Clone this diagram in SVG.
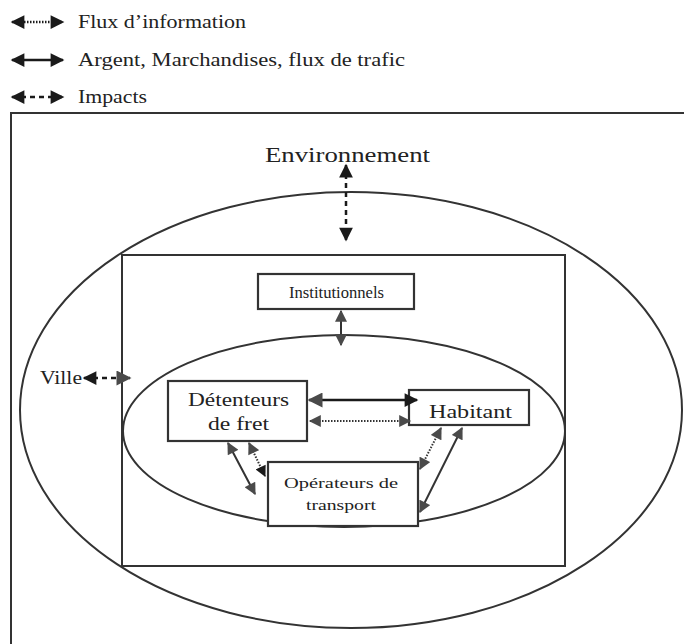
<svg xmlns="http://www.w3.org/2000/svg" width="684" height="644" viewBox="0 0 684 644">
<defs>
<marker id="ah" viewBox="0 0 10 10" refX="9" refY="5" markerWidth="6" markerHeight="5.5" orient="auto-start-reverse" markerUnits="strokeWidth"><path d="M0,0 L10,5 L0,10 z" fill="#1a1a1a"/></marker>
<marker id="ahg" viewBox="0 0 10 10" refX="9" refY="5" markerWidth="6.5" markerHeight="6" orient="auto-start-reverse" markerUnits="strokeWidth"><path d="M0,0 L10,5 L0,10 z" fill="#4a4a4a"/></marker>
<style>
.t{font-family:"Liberation Serif","DejaVu Serif",serif;fill:#222}
.box{fill:#fff;stroke:#333;stroke-width:2.2}
.frame{fill:none;stroke:#333;stroke-width:2}
.solid{stroke:#1a1a1a;stroke-width:2.5;fill:none}
.dot{stroke:#1a1a1a;stroke-width:2.5;stroke-dasharray:1.5 1.5;fill:none}
.dash{stroke:#1a1a1a;stroke-width:2.5;stroke-dasharray:5 4;fill:none}
.gs{stroke:#333;stroke-width:2;fill:none}
.gd{stroke:#333;stroke-width:2;stroke-dasharray:1.5 1.5;fill:none}
</style>
</defs>
<rect width="684" height="644" fill="#fff"/>
<g id="legend">
<line class="dot" x1="12" y1="22" x2="63" y2="22" marker-start="url(#ah)" marker-end="url(#ah)"/>
<text class="t" x="78" y="28" font-size="19" textLength="168" lengthAdjust="spacingAndGlyphs">Flux d’information</text>
<line class="solid" x1="12" y1="60" x2="63" y2="60" marker-start="url(#ah)" marker-end="url(#ah)"/>
<text class="t" x="78" y="66" font-size="19" textLength="327" lengthAdjust="spacingAndGlyphs">Argent, Marchandises, flux de trafic</text>
<line class="dash" x1="12" y1="97" x2="63" y2="97" marker-start="url(#ah)" marker-end="url(#ah)"/>
<text class="t" x="78" y="103" font-size="19" textLength="69" lengthAdjust="spacingAndGlyphs">Impacts</text>
</g>
<g id="frame"><path class="frame" d="M11,644 L11,113 L684,113"/></g>
<g id="environnement">
<ellipse class="frame" cx="351" cy="410" rx="331" ry="218"/>
<text class="t" x="265" y="162" font-size="22" textLength="165" lengthAdjust="spacingAndGlyphs">Environnement</text>
</g>
<g id="ville">
<rect class="frame" x="122" y="255" width="443" height="311"/>
<text class="t" x="40" y="384" font-size="18" textLength="42" lengthAdjust="spacingAndGlyphs">Ville</text>
</g>
<g id="acteurs"><ellipse class="frame" cx="344" cy="431" rx="221" ry="96"/></g>
<g id="institutionnels">
<rect class="box" x="258" y="274" width="156" height="35"/>
<text class="t" x="289" y="298" font-size="16" textLength="95" lengthAdjust="spacingAndGlyphs">Institutionnels</text>
</g>
<g id="detenteurs">
<rect class="box" x="168" y="381" width="139" height="60"/>
<text class="t" x="188" y="406" font-size="19" textLength="101" lengthAdjust="spacingAndGlyphs">Détenteurs</text>
<text class="t" x="208" y="430" font-size="19" textLength="61" lengthAdjust="spacingAndGlyphs">de fret</text>
</g>
<g id="habitant">
<rect class="box" x="409" y="390" width="120" height="35"/>
<text class="t" x="429" y="418" font-size="19" textLength="83" lengthAdjust="spacingAndGlyphs">Habitant</text>
</g>
<g id="operateurs">
<rect class="box" x="268" y="462" width="150" height="64"/>
<text class="t" x="284" y="488" font-size="15" textLength="114" lengthAdjust="spacingAndGlyphs">Opérateurs de</text>
<text class="t" x="306" y="510" font-size="15" textLength="70" lengthAdjust="spacingAndGlyphs">transport</text>
</g>
<g id="connectors">
<line class="dash" x1="346" y1="165" x2="346" y2="240" marker-start="url(#ah)" marker-end="url(#ah)"/>
<line class="gs" x1="341" y1="311" x2="341" y2="345" marker-start="url(#ahg)" marker-end="url(#ahg)"/>
<line class="dash" x1="84" y1="378" x2="130" y2="378" marker-start="url(#ah)" marker-end="url(#ahg)"/>
<line class="solid" x1="309" y1="400" x2="417" y2="400" marker-start="url(#ahg)" marker-end="url(#ah)"/>
<line class="gd" x1="310" y1="421" x2="410" y2="421" marker-start="url(#ahg)" marker-end="url(#ahg)"/>
<line class="gs" x1="228" y1="443" x2="255" y2="494" marker-start="url(#ahg)" marker-end="url(#ahg)"/>
<line class="gd" x1="249" y1="443" x2="265" y2="476" marker-start="url(#ahg)" marker-end="url(#ah)"/>
<line class="gd" x1="441" y1="428" x2="420" y2="469" marker-start="url(#ahg)" marker-end="url(#ahg)"/>
<line class="gs" x1="462" y1="428" x2="420" y2="512" marker-start="url(#ahg)" marker-end="url(#ahg)"/>
</g>
</svg>
